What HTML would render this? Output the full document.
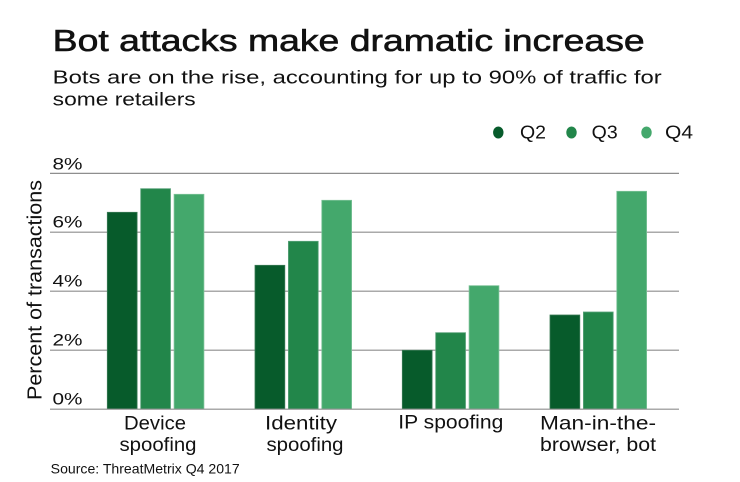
<!DOCTYPE html>
<html>
<head>
<meta charset="utf-8">
<style>
  html, body { margin:0; padding:0; background:#fff; }
  svg { display:block; }
  text { font-family: "Liberation Sans", "DejaVu Sans", sans-serif; fill:#111; }
</style>
</head>
<body>
<svg width="740" height="482" viewBox="0 0 740 482" xmlns="http://www.w3.org/2000/svg">
  <rect width="740" height="482" fill="#fff"/>

  <!-- Title & subtitle -->
  <text x="52.7" y="51" font-size="31" stroke="#111" stroke-width="0.6" textLength="592" lengthAdjust="spacingAndGlyphs">Bot attacks make dramatic increase</text>
  <text x="52.7" y="83.3" font-size="18.5" textLength="609" lengthAdjust="spacingAndGlyphs">Bots are on the rise, accounting for up to 90% of traffic for</text>
  <text x="52.7" y="105.3" font-size="18.5" textLength="143" lengthAdjust="spacingAndGlyphs">some retailers</text>

  <!-- Legend -->
  <ellipse cx="498.3" cy="132.5" rx="5.2" ry="6" fill="#075b2b"/>
  <text x="520" y="138.5" font-size="18.5" textLength="26" lengthAdjust="spacingAndGlyphs">Q2</text>
  <ellipse cx="571.5" cy="132.5" rx="5.2" ry="6" fill="#22864a"/>
  <text x="591.7" y="138.5" font-size="18.5" textLength="26" lengthAdjust="spacingAndGlyphs">Q3</text>
  <ellipse cx="646.5" cy="132.5" rx="5.2" ry="6" fill="#44a86c"/>
  <text x="665" y="138.5" font-size="18.5" textLength="28" lengthAdjust="spacingAndGlyphs">Q4</text>

  <!-- Gridlines -->
  <g stroke="#8e8e8e" stroke-width="1.2">
    <line x1="50" y1="173.4" x2="679" y2="173.4"/>
    <line x1="50" y1="232.2" x2="679" y2="232.2"/>
    <line x1="50" y1="291.2" x2="679" y2="291.2"/>
    <line x1="50" y1="350.2" x2="679" y2="350.2"/>
  </g>

  <!-- Y labels -->
  <text x="52.5" y="169.5" font-size="16.5" textLength="30" lengthAdjust="spacingAndGlyphs">8%</text>
  <text x="52.5" y="227.5" font-size="16.5" textLength="30" lengthAdjust="spacingAndGlyphs">6%</text>
  <text x="52.5" y="286.5" font-size="16.5" textLength="30" lengthAdjust="spacingAndGlyphs">4%</text>
  <text x="52.5" y="345.5" font-size="16.5" textLength="30" lengthAdjust="spacingAndGlyphs">2%</text>
  <text x="52.5" y="404.5" font-size="16.5" textLength="30" lengthAdjust="spacingAndGlyphs">0%</text>

  <!-- Y axis title -->
  <text transform="translate(41.5,290) rotate(-90)" text-anchor="middle" font-size="20" textLength="220" lengthAdjust="spacingAndGlyphs">Percent of transactions</text>

  <!-- Bars -->
  <g stroke-width="0.8">
    <rect x="107.3" y="212.3" width="29.8" height="196.7" fill="#075b2b" stroke="#3a7a55"/>
    <rect x="140.7" y="188.7" width="29.8" height="220.3" fill="#22864a" stroke="#5aa27a"/>
    <rect x="174.1" y="194.3" width="29.8" height="214.7" fill="#44a86c" stroke="#7cc298"/>
    <rect x="255" y="265.3" width="29.8" height="143.7" fill="#075b2b" stroke="#3a7a55"/>
    <rect x="288.4" y="241.3" width="29.8" height="167.7" fill="#22864a" stroke="#5aa27a"/>
    <rect x="321.8" y="200.3" width="29.8" height="208.7" fill="#44a86c" stroke="#7cc298"/>
    <rect x="402.3" y="350.3" width="29.8" height="58.7" fill="#075b2b" stroke="#3a7a55"/>
    <rect x="435.7" y="332.7" width="29.8" height="76.3" fill="#22864a" stroke="#5aa27a"/>
    <rect x="469.1" y="285.7" width="29.8" height="123.3" fill="#44a86c" stroke="#7cc298"/>
    <rect x="550" y="315" width="29.8" height="94" fill="#075b2b" stroke="#3a7a55"/>
    <rect x="583.4" y="312" width="29.8" height="97" fill="#22864a" stroke="#5aa27a"/>
    <rect x="616.8" y="191.3" width="29.8" height="217.7" fill="#44a86c" stroke="#7cc298"/>
  </g>

  <!-- Baseline -->
  <line x1="50" y1="409.2" x2="679" y2="409.2" stroke="#8e8e8e" stroke-width="1.2"/>

  <!-- Category labels -->
  <g font-size="19.5" text-anchor="middle">
    <text x="155" y="429.3" textLength="62" lengthAdjust="spacingAndGlyphs">Device</text>
    <text x="158" y="451" textLength="77" lengthAdjust="spacingAndGlyphs">spoofing</text>
    <text x="301" y="429.3" textLength="72" lengthAdjust="spacingAndGlyphs">Identity</text>
    <text x="305" y="451" textLength="77" lengthAdjust="spacingAndGlyphs">spoofing</text>
    <text x="450.8" y="428.5" textLength="105" lengthAdjust="spacingAndGlyphs">IP spoofing</text>
    <text x="598" y="429.3" textLength="116" lengthAdjust="spacingAndGlyphs">Man-in-the-</text>
    <text x="598" y="451" textLength="116" lengthAdjust="spacingAndGlyphs">browser, bot</text>
  </g>

  <!-- Source -->
  <text x="50.7" y="473.3" font-size="14" textLength="189" lengthAdjust="spacingAndGlyphs">Source: ThreatMetrix Q4 2017</text>
</svg>
</body>
</html>
